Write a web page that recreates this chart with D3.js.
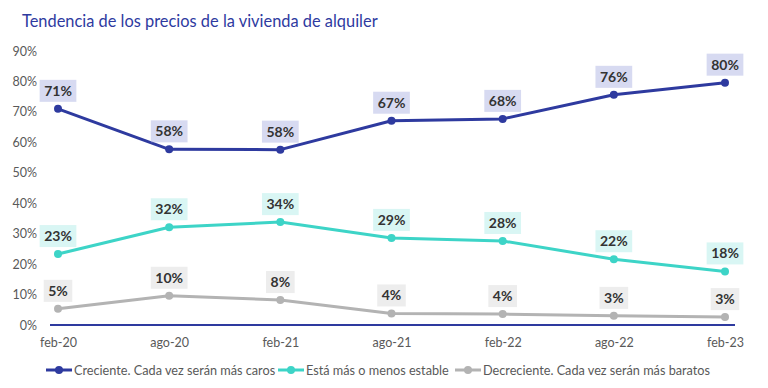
<!DOCTYPE html>
<html><head><meta charset="utf-8">
<script src="https://cdn.jsdelivr.net/npm/d3@7"></script>
<style>body{margin:0;background:#fff}svg{display:block}</style>
</head><body><svg id="c" width="768" height="388"></svg>
<script>
const categories = ["feb-20","ago-20","feb-21","ago-21","feb-22","ago-22","feb-23"];
const creciente = [71.0, 57.7, 57.6, 67.1, 67.7, 75.6, 79.6];
const estable = [23.3, 32.1, 33.8, 28.6, 27.6, 21.6, 17.6];
const decreciente = [5.3, 9.6, 8.2, 3.8, 3.6, 3.0, 2.6];
const yTicks = [0,10,20,30,40,50,60,70,80,90];
const seriesNames = ["Creciente. Cada vez serán más caros","Está más o menos estable","Decreciente. Cada vez serán más baratos"];
const title = "Tendencia de los precios de la vivienda de alquiler";

const series = [
  {name: seriesNames[0], values: creciente, color: "#2E3A9F", box: "rgba(175,181,228,0.5)"},
  {name: seriesNames[1], values: estable, color: "#3DD4C7", box: "rgba(170,236,230,0.45)"},
  {name: seriesNames[2], values: decreciente, color: "#B3B3B3", box: "rgba(220,220,220,0.5)"}
];

const svg = d3.select("#c");
const font = "Lato, sans-serif";
const x = d3.scalePoint().domain(categories).range([58, 725]);
const y = d3.scaleLinear().domain([0, 90]).range([325, 51]);

svg.append("text").attr("x", 22).attr("y", 27).attr("fill", "#2E3A9F")
  .attr("font-family", font).attr("font-size", 16.4).text(title);

// y axis labels
const ya = svg.append("g").attr("transform", "translate(37,0)")
  .call(d3.axisLeft(y).tickValues(yTicks).tickFormat(d => d + "%").tickSize(0).tickPadding(0));
ya.select(".domain").remove();
ya.selectAll("text").attr("font-family", font).attr("font-size", 12.5).attr("fill", "#595959");

// x axis
const xa = svg.append("g").attr("transform", "translate(0,325)")
  .call(d3.axisBottom(x).tickSize(0).tickPadding(13));
xa.select(".domain").remove();
xa.selectAll("text").attr("font-family", font).attr("font-size", 12.5).attr("fill", "#595959");
svg.append("line").attr("x1", 50).attr("x2", 735).attr("y1", y(0)).attr("y2", y(0))
  .attr("stroke", "#2E3A9F").attr("stroke-width", 2);

const line = d3.line().x((d, i) => x(categories[i])).y(d => y(d));
series.forEach(s => {
  svg.append("path").attr("d", line(s.values)).attr("fill", "none")
    .attr("stroke", s.color).attr("stroke-width", 3).attr("stroke-linejoin", "round");
  svg.selectAll(null).data(s.values).enter().append("circle")
    .attr("cx", (d, i) => x(categories[i])).attr("cy", d => y(d)).attr("r", 4).attr("fill", s.color);
});
series.forEach(s => {
  s.values.forEach((v, i) => {
    const cx = x(categories[i]), cy = y(v) - 18;
    const label = Math.round(v) + "%";
    const g = svg.append("g");
    const t = g.append("text").attr("x", cx).attr("y", cy + 5).attr("text-anchor", "middle")
      .attr("font-family", font).attr("font-size", 14).attr("font-weight", "bold")
      .attr("fill", "#333").text(label);
    const w = t.node().getComputedTextLength() + 9;
    g.insert("rect", "text").attr("x", cx - w / 2).attr("y", cy - 11).attr("width", w).attr("height", 22)
      .attr("fill", s.box);
  });
});

// legend
const lg = svg.append("g");
const legendX = [46, 278, 455];
series.forEach((s, i) => {
  const lx = legendX[i], ly = 370;
  lg.append("line").attr("x1", lx).attr("x2", lx + 26).attr("y1", ly).attr("y2", ly)
    .attr("stroke", s.color).attr("stroke-width", 3);
  lg.append("circle").attr("cx", lx + 13).attr("cy", ly).attr("r", 4).attr("fill", s.color);
  lg.append("text").attr("x", lx + 28).attr("y", ly + 4.5).attr("font-family", font)
    .attr("font-size", 12.7).attr("fill", "#595959").text(s.name);
});
</script></body></html>
